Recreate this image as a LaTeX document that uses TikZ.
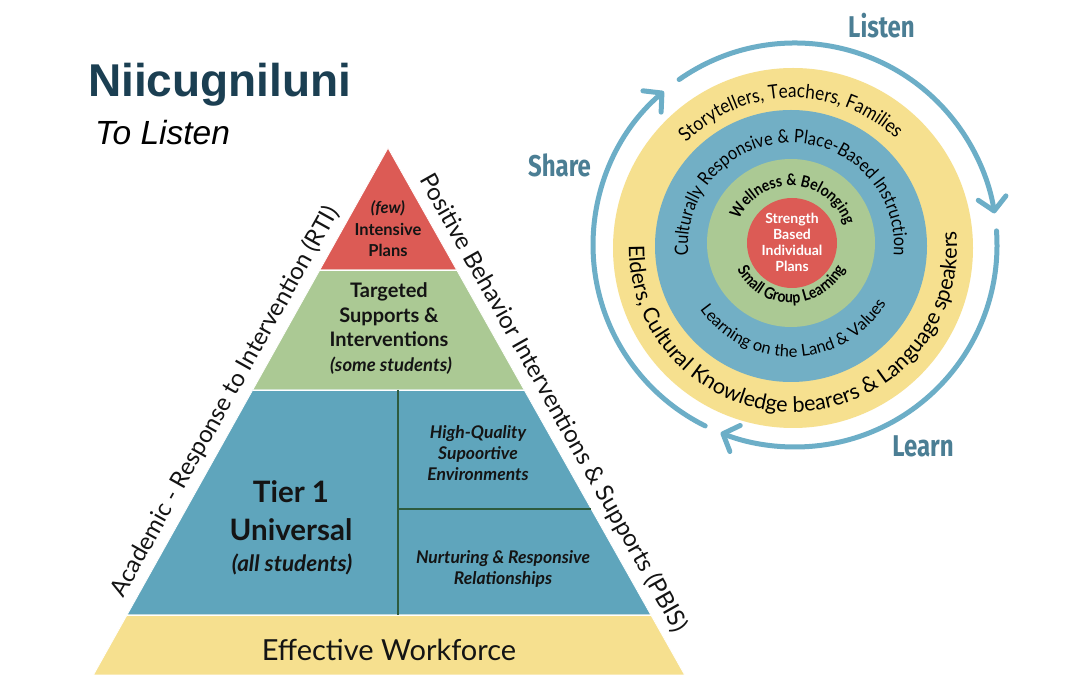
\documentclass[tikz,border=0pt]{standalone}
\usepackage{fontspec}
\setmainfont{Lato}
\newfontfamily\titlefont{Liberation Sans}
\newfontfamily\condfont[FakeStretch=0.8]{Fira Sans}
\newfontfamily\narrowlato[FakeStretch=0.88]{Lato}
\usetikzlibrary{decorations.text,arrows.meta}
\definecolor{tred}{HTML}{DC5B55}
\definecolor{tgreen}{HTML}{ABC994}
\definecolor{tblue}{HTML}{5FA5BC}
\definecolor{tyellow}{HTML}{F6E08F}
\definecolor{cblue}{HTML}{72AFC5}
\definecolor{arrowblue}{HTML}{6CAEC7}
\definecolor{labelblue}{HTML}{4B7E94}
\definecolor{divgreen}{HTML}{2E5B3E}
\definecolor{titleblue}{HTML}{1B3F52}
\definecolor{inktext}{HTML}{141414}
\newcommand\fYT{\narrowlato\fontsize{19.5}{19.5}\selectfont}
\newcommand\fYB{\fontsize{21.5}{21.5}\selectfont}
\newcommand\fBT{\narrowlato\fontsize{18.5}{18.5}\selectfont}
\newcommand\fBB{\fontsize{16.5}{16.5}\selectfont}
\newcommand\fGT{\narrowlato\bfseries\fontsize{16}{16}\selectfont}
\begin{document}
\begin{tikzpicture}[x=1pt,y=1pt,
  every node/.style={inner sep=0pt, text=inktext},
  tier/.style={draw=white, line width=0.8pt},
  divider/.style={draw=divgreen, line width=1.5pt},
  cycarrow/.style={draw=arrowblue, line width=5pt, line cap=round, -{Straight Barb[length=13pt,width=28pt,round]}},
  cyclabel/.style={text=labelblue, font=\condfont\bfseries\fontsize{30}{30}\selectfont, anchor=base},
  sidelabel/.style={font=\fontsize{24}{24}\selectfont},
  arctext/.style={decorate, decoration={text along path, text align=center, text={#1}}}
]
\useasboundingbox (0,0) rectangle (1080,675);
\fill[white] (0,0) rectangle (1080,675);

% titles
\node[anchor=base west, text=titleblue, font=\titlefont\bfseries\fontsize{46}{46}\selectfont] (title) at (88,578) {Niicugniluni};
\node[anchor=base west, text=black, font=\titlefont\itshape\fontsize{33.5}{33.5}\selectfont] (subtitle) at (95,530) {To Listen};

% pyramid tiers
\fill[tred, tier] (388,527) -- (456.7,405) -- (319.8,405) -- cycle;
\fill[tgreen, tier] (319.8,405) -- (456.7,405) -- (524.2,285) -- (252.7,285) -- cycle;
\fill[tblue, tier] (252.7,285) -- (524.2,285) -- (650.9,60) -- (127,60) -- cycle;
\fill[tyellow, tier] (127,60) -- (650.9,60) -- (684.7,0) -- (93.4,0) -- cycle;
\draw[white, line width=0.8pt] (319.8,405) -- (456.7,405) (252.7,285) -- (524.2,285) (127,60) -- (650.9,60);
\draw[divider] (398,285) -- (398,60);
\draw[divider] (398,166) -- (591.2,166);

% pyramid texts
\node[align=center, font=\bfseries\fontsize{16.5}{21.5}\selectfont] (red) at (388,446) {\textit{(few)}\\Intensive\\Plans};
\node[align=center, font=\bfseries\fontsize{20}{24.5}\selectfont] (grn) at (389,360) {Targeted\\Supports \&\\Interventions};
\node[font=\bfseries\itshape\fontsize{18.5}{18.5}\selectfont] (grn2) at (391,309) {(some students)};
\node[align=center, font=\bfseries\fontsize{29.5}{38}\selectfont] (tier) at (291,164.5) {Tier 1\\Universal};
\node[font=\bfseries\itshape\fontsize{22.5}{22.5}\selectfont] (all) at (292,110.4) {(all students)};
\node[align=center, font=\bfseries\itshape\fontsize{17.5}{21}\selectfont] (hq) at (478,222) {High-Quality\\Supoortive\\Environments};
\node[align=center, font=\bfseries\itshape\fontsize{17.5}{20.5}\selectfont] (nr) at (503,106) {Nurturing \& Responsive\\Relationships};
\node[font=\fontsize{29}{29}\selectfont] (ew) at (389,25) {Effective Workforce};

% side labels
\node[sidelabel, rotate=60.8] (rti) at (225,273.5) {Academic - Response to Intervention (RTI)};
\node[sidelabel, rotate=-60.6] (pbis) at (553.4,271.9) {Positive Behavior Interventions \& Supports (PBIS)};

% circles
\fill[tyellow] (793,427) circle[radius=180pt];
\fill[cblue] (791,429) circle[radius=136pt];
\fill[tgreen] (791,432) circle[radius=84pt];
\fill[tred] (792,432) circle[radius=45pt];

% circle texts
\path[arctext={|\fYT|Storytellers, Teachers, Families}] (793,427) ++(150:150pt) arc[start angle=150, end angle=32, radius=150pt];
\path[arctext={|\fYB|Elders, Cultural Knowledge bearers {\&} Language speakers}] (793,427) ++(168:164pt) arc[start angle=168, end angle=377, radius=164pt];
\path[arctext={|\fBT|Culturally Responsive {\&} Place-Based Instruction}] (791,429) ++(198:103pt) arc[start angle=198, end angle=-18, radius=103pt];
\path[arctext={|\fBB|Learning on the Land {\&} Values}] (791,429) ++(200:111pt) arc[start angle=200, end angle=344, radius=111pt];
\path[arctext={|\fGT|Wellness {\&} Belonging}] (791,432) ++(170:57pt) arc[start angle=170, end angle=3.6, radius=57pt];
\path[arctext={|\fGT|Small Group Learning}] (791,432) ++(190:60pt) arc[start angle=190, end angle=350.6, radius=60pt];
\node[align=center, text=white, font=\bfseries\fontsize{14}{16}\selectfont] (core) at (792,432.5) {Strength\\Based\\Individual\\Plans};

% cycle arrows
\draw[cycarrow] (795,430) ++(243.6:202pt) arc[start angle=243.6, end angle=130.5, radius=202pt];
\draw[cycarrow] (795,430) ++(125:202pt) arc[start angle=125, end angle=9, radius=202pt];
\draw[cycarrow] (795,430) ++(4:202pt) arc[start angle=4, end angle=-111.6, radius=202pt];

\node[cyclabel] (listen) at (881.5,637) {Listen};
\node[cyclabel] (share) at (559.5,498) {Share};
\node[cyclabel] (learn) at (923,218) {Learn};
\end{tikzpicture}
\end{document}
